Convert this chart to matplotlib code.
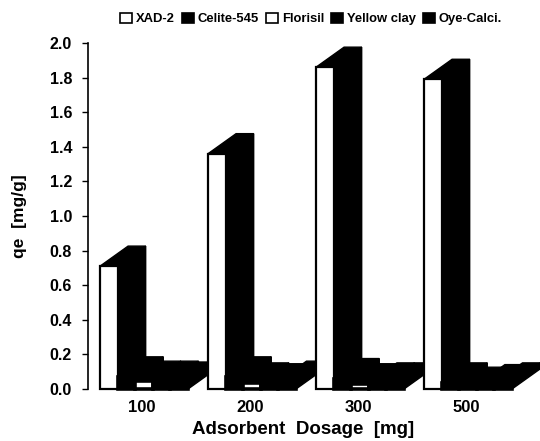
import matplotlib
matplotlib.use("Agg")
import matplotlib.pyplot as plt
import numpy as np

plt.rcParams['font.family'] = ['Liberation Sans', 'DejaVu Sans']
plt.rcParams['font.weight'] = 'bold'

dosages = ["100", "200", "300", "500"]
series = ["XAD-2", "Celite-545", "Florisil", "Yellow clay", "Oye-Calci."]
xad = [0.71, 1.36, 1.86, 1.79]
celite = [0.07, 0.07, 0.06, 0.035]
florisil = [0.045, 0.035, 0.03, 0.01]
yellow = [0.045, 0.03, 0.035, 0.025]
oye = [0.04, 0.045, 0.035, 0.035]
values = [xad, celite, florisil, yellow, oye]
colors = ["white", "black", "white", "black", "black"]
yticks = [0.0, 0.2, 0.4, 0.6, 0.8, 1.0, 1.2, 1.4, 1.6, 1.8, 2.0]

W, H = 540, 441
fig = plt.figure(figsize=(W / 100, H / 100), dpi=100)
ax = fig.add_axes([88 / W, 1 - 389 / H, (W - 88) / W, (389 - 43) / H])

width = 0.163
dx = 0.26   # depth of the fake 3D bars
dy = 0.116

for g in range(len(dosages)):
    for s in range(len(series)):
        left = g + s * width
        v = values[s][g]
        # top and right side, always black in the scan
        ax.fill([left, left + dx, left + dx + width, left + width],
                [v, v + dy, v + dy, v], color="black", lw=1, clip_on=False, zorder=2 + g + s * 0.1)
        ax.fill([left + width, left + width + dx, left + width + dx, left + width],
                [0, dy, v + dy, v], color="black", lw=1, clip_on=False, zorder=2 + g + s * 0.1)
        lw = 1.6 if s == 0 else 2.6
        ax.bar(left, v, width, align="edge", color=colors[s], edgecolor="black", lw=lw,
               clip_on=False, zorder=2.05 + g + s * 0.1)

ax.set_xlim(-12 / 108, (W - 100) / 108)
ax.set_ylim(0, 2.0)
ax.set_yticks(yticks)
ax.set_yticklabels([f"{t:.1f}" for t in yticks], fontsize=11.5, fontweight="bold")
ax.set_xticks(np.arange(4) + 0.39)
ax.set_xticklabels(dosages, fontsize=12, fontweight="bold")
ax.tick_params(axis="x", length=0, pad=8)
ax.tick_params(axis="y", length=4.5, width=1, pad=7)
for side in ["top", "right", "bottom"]:
    ax.spines[side].set_visible(False)
ax.spines["left"].set_linewidth(1.2)

fig.text(303 / W, 1 - 429 / H, "Adsorbent  Dosage  [mg]", fontsize=13.5, fontweight="bold", ha="center", va="center")
fig.text(20 / W, 1 - 216 / H, "qe  [mg/g]", rotation=90, fontsize=12.5, fontweight="bold", ha="center", va="center")

handles = [plt.Rectangle((0, 0), 1, 1, facecolor=c, edgecolor="black", lw=1.2) for c in colors]
fig.legend(handles, series, ncol=5, loc="center", bbox_to_anchor=(311 / W, 1 - 19 / H), frameon=False,
           prop={"size": 9.4, "weight": "bold"}, handlelength=0.9, handleheight=0.9,
           columnspacing=0.55, handletextpad=0.3, borderpad=0)

fig.savefig("out.png", dpi=100)
